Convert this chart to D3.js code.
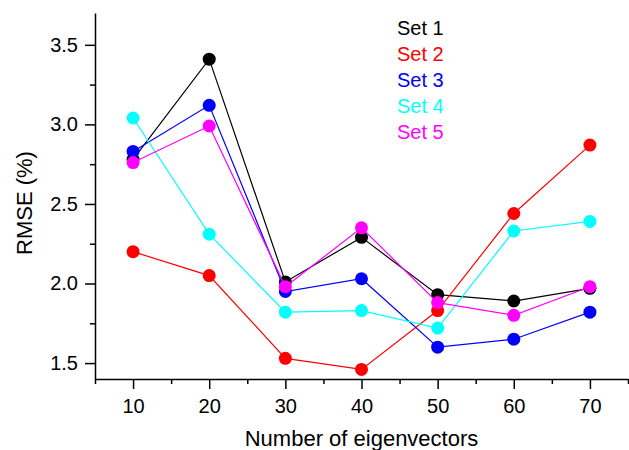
<!DOCTYPE html>
<html>
<head>
<meta charset="utf-8">
<script src="https://cdn.jsdelivr.net/npm/d3@7"></script>
<style>
  body { margin: 0; background: #fff; }
  text { font-family: "Liberation Sans", Arial, Helvetica, sans-serif; }
</style>
</head>
<body>
<svg id="chart"></svg>
<script>
// Data
const eigenvectors = [10, 20, 30, 40, 50, 60, 70];
const set1 = [2.78, 3.41, 2.01, 2.29, 1.93, 1.89, 1.97];
const set2 = [2.20, 2.05, 1.53, 1.46, 1.83, 2.44, 2.87];
const set3 = [2.83, 3.12, 1.95, 2.03, 1.60, 1.65, 1.82];
const set4 = [3.04, 2.31, 1.82, 1.83, 1.72, 2.33, 2.39];
const set5 = [2.76, 2.99, 1.98, 2.35, 1.88, 1.80, 1.98];
const setNames = ["Set 1", "Set 2", "Set 3", "Set 4", "Set 5"];
const setColors = ["#000000", "#ff0000", "#0000ff", "#00ffff", "#ff00ff"];
const xMajorTicks = [10, 20, 30, 40, 50, 60, 70];
const xMinorTicks = [5, 15, 25, 35, 45, 55, 65, 75];
const yMajorTicks = [1.5, 2.0, 2.5, 3.0, 3.5];
const yMinorTicks = [1.75, 2.25, 2.75, 3.25];

const series = [set1, set2, set3, set4, set5].map((vals, i) => ({
    name: setNames[i],
    color: setColors[i],
    values: vals.map((v, j) => ({ x: eigenvectors[j], y: v }))
}));

// Set up SVG dimensions
const width = 629, height = 450;
const svg = d3.select("#chart")
    .attr("width", width)
    .attr("height", height);

// Scales
const x = d3.scaleLinear().domain([5, 75]).range([95, 628]);
const y = d3.scaleLinear().domain([1.4, 3.7]).range([379, 13]);

// X axis (major + minor ticks)
svg.append("g")
    .attr("transform", "translate(0,379)")
    .call(d3.axisBottom(x).tickValues(xMinorTicks).tickSize(5).tickFormat(""))
    .call(g => g.select(".domain").remove())
    .selectAll("line").attr("stroke-width", 1.5);

const xAxis = svg.append("g")
    .attr("transform", "translate(0,379)")
    .call(d3.axisBottom(x).tickValues(xMajorTicks).tickSize(10).tickSizeOuter(0).tickPadding(10).tickFormat(d3.format("d")));
xAxis.select(".domain").attr("stroke-width", 1.5);
xAxis.selectAll("line").attr("stroke-width", 1.5);
xAxis.selectAll("text").style("font-size", "20px").attr("fill", "#000");

// Y axis (major + minor ticks)
svg.append("g")
    .attr("transform", "translate(95,0)")
    .call(d3.axisLeft(y).tickValues(yMinorTicks).tickSize(5).tickFormat(""))
    .call(g => g.select(".domain").remove())
    .selectAll("line").attr("stroke-width", 1.5);

const yAxis = svg.append("g")
    .attr("transform", "translate(95,0)")
    .call(d3.axisLeft(y).tickValues(yMajorTicks).tickSize(10).tickSizeOuter(0).tickPadding(7).tickFormat(d3.format(".1f")));
yAxis.select(".domain").attr("stroke-width", 1.5);
yAxis.selectAll("line").attr("stroke-width", 1.5);
yAxis.selectAll("text").style("font-size", "20px").attr("fill", "#000");

// Lines and markers
const line = d3.line().x(d => x(d.x)).y(d => y(d.y));

series.forEach(s => {
    svg.append("path")
        .datum(s.values)
        .attr("fill", "none")
        .attr("stroke", s.color)
        .attr("stroke-width", 1.2)
        .attr("d", line);

    svg.selectAll(null)
        .data(s.values)
        .enter().append("circle")
        .attr("cx", d => x(d.x))
        .attr("cy", d => y(d.y))
        .attr("r", 6.5)
        .attr("fill", s.color);
});

// Legend
svg.selectAll(".legend")
    .data(series)
    .enter().append("text")
    .attr("class", "legend")
    .attr("x", 397)
    .attr("y", (d, i) => 35 + i * 26)
    .style("font-size", "20px")
    .attr("fill", d => d.color)
    .text(d => d.name);

// X axis label
svg.append("text")
    .attr("x", 361.5)
    .attr("y", 446)
    .attr("text-anchor", "middle")
    .style("font-size", "22px")
    .text("Number of eigenvectors");

// Y axis label
svg.append("text")
    .attr("transform", "translate(32,203) rotate(-90)")
    .attr("text-anchor", "middle")
    .style("font-size", "22px")
    .text("RMSE (%)");
</script>
</body>
</html>
